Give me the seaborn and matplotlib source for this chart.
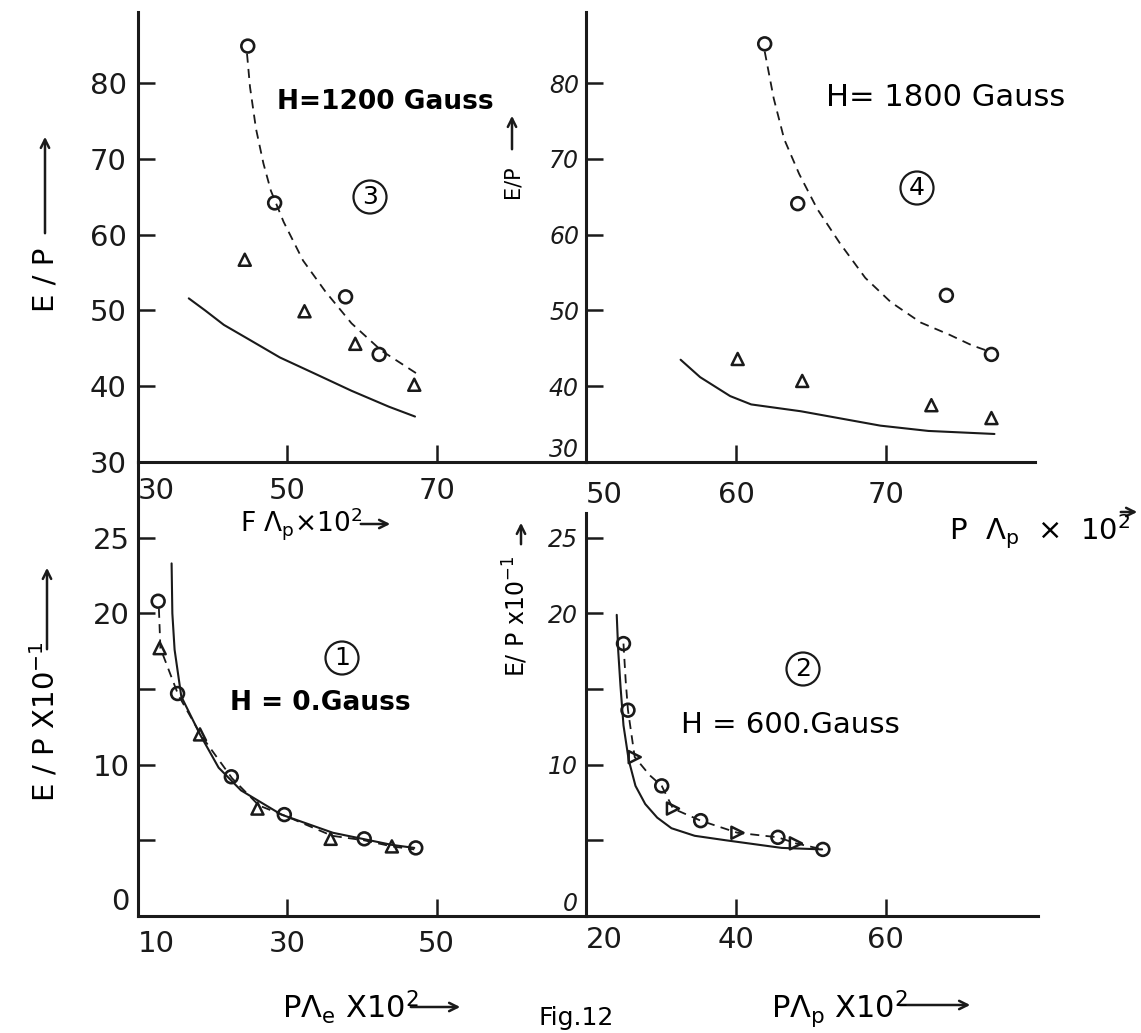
import matplotlib
matplotlib.use('Agg')

import matplotlib.pyplot as plt
import seaborn as sns

W, H = 1141, 1033

# panel 3: H = 1200 gauss (top left)
p3_circle_x = [44.7, 48.3, 57.8, 62.3]
p3_circle_y = [84.9, 64.2, 51.8, 44.2]
p3_tri_x = [44.3, 52.3, 59.1, 67.0]
p3_tri_y = [56.7, 49.9, 45.6, 40.2]
p3_dash_x = [44.6, 45.0, 45.8, 46.8, 47.8, 49.5, 52.1, 55.1, 58.6, 62.6, 67.6]
p3_dash_y = [83.9, 79.5, 74.0, 69.4, 65.8, 61.7, 56.6, 52.5, 48.3, 44.7, 41.5]
p3_solid_x = [36.8, 39.0, 41.5, 45.0, 49.0, 53.6, 58.6, 63.6, 67.1]
p3_solid_y = [51.6, 50.0, 48.1, 46.1, 43.8, 41.7, 39.4, 37.3, 36.0]

# panel 4: H = 1800 gauss (top right)
p4_circle_x = [61.9, 64.1, 74.0, 77.0]
p4_circle_y = [85.2, 64.1, 52.0, 44.2]
p4_tri_x = [60.1, 64.4, 73.0, 77.0]
p4_tri_y = [43.6, 40.7, 37.5, 35.8]
p4_dash_x = [61.9, 62.5, 63.2, 64.2, 65.4, 66.9, 68.6, 70.3, 72.3, 74.2, 75.7, 76.7]
p4_dash_y = [84.2, 78.0, 72.6, 68.0, 63.4, 58.9, 54.3, 51.1, 48.4, 46.8, 45.4, 44.7]
p4_solid_x = [56.3, 57.6, 59.6, 61.0, 64.3, 69.6, 72.8, 77.2]
p4_solid_y = [43.5, 41.2, 38.7, 37.6, 36.7, 34.8, 34.1, 33.7]

# panel 1: H = 0 gauss (bottom left)
p1_circle_x = [12.7, 15.3, 22.5, 29.6, 40.3, 47.2]
p1_circle_y = [20.8, 14.7, 9.2, 6.7, 5.1, 4.5]
p1_tri_x = [12.9, 18.3, 26.0, 35.8, 44.0]
p1_tri_y = [17.7, 12.0, 7.1, 5.1, 4.6]
p1_dash_x = [12.8, 13.0, 15.4, 18.5, 22.6, 26.2, 29.8, 36.0, 40.3, 44.0, 47.0]
p1_dash_y = [20.3, 17.7, 14.6, 11.9, 9.1, 7.3, 6.6, 5.3, 5.0, 4.6, 4.4]
p1_solid_x = [14.5, 14.6, 14.9, 15.8, 18.3, 20.8, 23.8, 29.2, 36.1, 44.0, 47.0]
p1_solid_y = [23.3, 20.0, 17.6, 14.5, 12.0, 9.8, 8.3, 6.7, 5.5, 4.7, 4.5]

# panel 2: H = 600 gauss (bottom right)
p2_circle_x = [25.0, 25.6, 30.1, 35.3, 45.6, 51.6]
p2_circle_y = [18.0, 13.6, 8.6, 6.3, 5.2, 4.4]
p2_tri_x = [26.5, 31.6, 40.2, 48.0]
p2_tri_y = [10.5, 7.1, 5.5, 4.8]
p2_dash_x = [25.0, 25.3, 25.6, 26.5, 28.5, 30.1, 31.6, 35.3, 40.2, 45.6, 48.0, 51.6]
p2_dash_y = [18.0, 15.5, 13.6, 10.5, 9.3, 8.6, 7.1, 6.3, 5.5, 5.2, 4.8, 4.4]
p2_solid_x = [24.1, 24.3, 24.6, 25.0, 25.7, 26.6, 27.9, 29.5, 31.4, 34.5, 38.7, 46.1, 51.5]
p2_solid_y = [19.9, 17.5, 15.2, 12.6, 10.3, 8.6, 7.4, 6.5, 5.8, 5.3, 5.0, 4.5, 4.4]

sns.set_theme(style='ticks')
plt.rcParams['font.family'] = ['DejaVu Sans']
plt.rcParams['mathtext.default'] = 'regular'
plt.rcParams['text.color'] = 'black'
plt.rcParams['axes.labelcolor'] = 'black'
plt.rcParams['xtick.color'] = 'black'
plt.rcParams['ytick.color'] = 'black'

fig = plt.figure(figsize=(W / 100, H / 100), dpi=100)


def box(left, top, right, bottom):
    # pixel box of the reference -> figure fractions
    return [left / W, 1 - bottom / H, (right - left) / W, (bottom - top) / H]


def fxy(x, y):
    return x / W, 1 - y / H


def draw_panel(ax, cx, cy, tx, ty, dx, dy, sx, sy, tri='^'):
    sns.lineplot(x=sx, y=sy, ax=ax, color='k', lw=1.5, sort=False, estimator=None)
    sns.lineplot(x=dx, y=dy, ax=ax, color='k', lw=1.3, sort=False, estimator=None,
                 linestyle=(0, (5, 3.5)))
    sns.scatterplot(x=cx, y=cy, ax=ax, marker='o', s=85, facecolor='none',
                    edgecolor='k', linewidth=1.9, zorder=3)
    sns.scatterplot(x=tx, y=ty, ax=ax, marker=tri, s=75, facecolor='none',
                    edgecolor='k', linewidth=1.8, zorder=3)


def style_axes(ax, xlim, ylim, xticks, xlabels, yticks, ylabels, xpad, ypad):
    sns.despine(ax=ax)
    ax.set_facecolor('none')
    ax.grid(False)
    for s in ['left', 'bottom']:
        ax.spines[s].set_linewidth(2.2)
        ax.spines[s].set_color('k')
    ax.set_xlim(*xlim)
    ax.set_ylim(*ylim)
    ax.set_xticks(xticks, xlabels)
    ax.set_yticks(yticks, ylabels)
    ax.tick_params(direction='in', length=12, width=1.8, color='k',
                   labelsize=21, labelcolor='k')
    ax.tick_params(axis='x', pad=xpad)
    ax.tick_params(axis='y', pad=ypad)
    ax.set_xlabel('')
    ax.set_ylabel('')
    ax.get_xticklabels()[0].set_horizontalalignment('left')


ax3 = fig.add_axes(box(138, 12, 586, 462))
ax4 = fig.add_axes(box(586, 12, 1035, 462))
ax1 = fig.add_axes(box(138, 462, 586, 916))
ax2 = fig.add_axes(box(586, 462, 1038, 916))

draw_panel(ax3, p3_circle_x, p3_circle_y, p3_tri_x, p3_tri_y,
           p3_dash_x, p3_dash_y, p3_solid_x, p3_solid_y)
draw_panel(ax4, p4_circle_x, p4_circle_y, p4_tri_x, p4_tri_y,
           p4_dash_x, p4_dash_y, p4_solid_x, p4_solid_y)
draw_panel(ax1, p1_circle_x, p1_circle_y, p1_tri_x, p1_tri_y,
           p1_dash_x, p1_dash_y, p1_solid_x, p1_solid_y)
draw_panel(ax2, p2_circle_x, p2_circle_y, p2_tri_x, p2_tri_y,
           p2_dash_x, p2_dash_y, p2_solid_x, p2_solid_y, tri='>')

top_y = [30, 40, 50, 60, 70, 80]
top_ylab = ['30', '40', '50', '60', '70', '80']
bot_y = [0, 5, 10, 15, 20, 25]
bot_ylab = ['0', '', '10', '', '20', '25']

style_axes(ax3, (30, 90), (30, 89.4), [30, 50, 70], ['30', '50', '70'],
           top_y, top_ylab, 11, 8)
style_axes(ax4, (50, 79.9), (30, 89.4), [50, 60, 70], ['50', '60', '70'],
           top_y, top_ylab, 14, 5)
style_axes(ax1, (10, 70), (0, 30), [10, 30, 50], ['10', '30', '50'],
           bot_y, bot_ylab, 10, 6)
style_axes(ax2, (20, 80.3), (0, 30), [20, 40, 60], ['20', '40', '60'],
           bot_y, bot_ylab, 7, 6)
ax2.spines['left'].set_bounds(0, 26.6)

# handwritten-looking smaller tick labels on the right-hand y axes
for ax in [ax4, ax2]:
    for lab in ax.get_yticklabels():
        lab.set_fontsize(17)
        lab.set_fontstyle('italic')
ax4.get_yticklabels()[0].set_verticalalignment('bottom')
ax1.get_yticklabels()[0].set_verticalalignment('bottom')
ax2.get_yticklabels()[0].set_verticalalignment('bottom')

# axis labels
fig.text(*fxy(362, 532), r'F Λ$_p$×10$^2$', fontsize=19, ha='right', va='baseline')
fig.text(*fxy(1131, 540), r'P  Λ$_p$  ×  10$^2$', fontsize=21, ha='right', va='baseline')
fig.text(*fxy(419, 1018), r'PΛ$_e$ X10$^2$', fontsize=22, ha='right', va='baseline')
fig.text(*fxy(908, 1018), r'PΛ$_p$ X10$^2$', fontsize=22, ha='right', va='baseline')

fig.text(*fxy(45, 280), 'E / P', fontsize=21, rotation=90, ha='center', va='center')
fig.text(*fxy(45, 722), r'E / P X10$^{-1}$', fontsize=21, rotation=90,
         ha='center', va='center')
fig.text(*fxy(512, 182), 'E/P', fontsize=15, rotation=90, ha='center', va='center')
fig.text(*fxy(516, 616), r'E/ P x10$^{-1}$', fontsize=17, rotation=90,
         ha='center', va='center')

arrows = [
    ((358, 524), (393, 524)),
    ((1118, 512), (1140, 512)),
    ((408, 1007), (463, 1007)),
    ((897, 1005), (973, 1005)),
    ((45, 236), (45, 134)),
    ((47, 652), (47, 565)),
    ((512, 152), (512, 113)),
    ((521, 547), (521, 520)),
]
for (x0, y0), (x1, y1) in arrows:
    ax3.annotate('', xy=(x1, H - y1), xytext=(x0, H - y0),
                 xycoords='figure pixels', textcoords='figure pixels',
                 arrowprops=dict(arrowstyle='->,head_length=0.5,head_width=0.25',
                                 lw=1.8, color='k'))

# field strength notes and panel numbers
fig.text(*fxy(385, 102), 'H=1200 Gauss', fontsize=19, fontweight='bold',
         ha='center', va='center')
fig.text(*fxy(946, 98), 'H= 1800 Gauss', fontsize=22, ha='center', va='center')
fig.text(*fxy(320, 703), 'H = 0.Gauss', fontsize=19, fontweight='bold',
         ha='center', va='center')
fig.text(*fxy(790, 725), 'H = 600.Gauss', fontsize=21, ha='center', va='center')

circled = [('3', 370, 197), ('4', 917, 188), ('1', 342, 658), ('2', 803, 669)]
for num, x, y in circled:
    fig.text(*fxy(x, y), num, fontsize=18, ha='center', va='center',
             bbox=dict(boxstyle='circle,pad=0.18', fc='none', ec='k', lw=1.6))

fig.text(*fxy(576, 1018), 'Fig.12', fontsize=18, ha='center', va='center')

fig.savefig('out.png', dpi=100)
plt.close(fig)
